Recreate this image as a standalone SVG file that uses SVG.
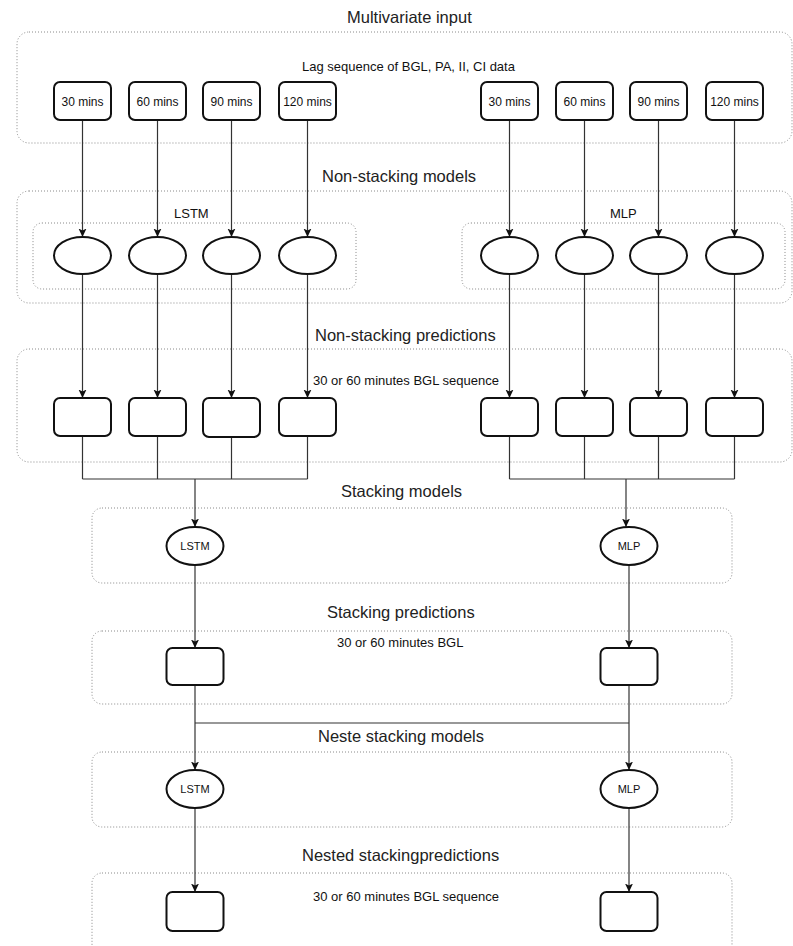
<svg xmlns="http://www.w3.org/2000/svg" width="793" height="946" viewBox="0 0 793 946">
<defs>
<style>
.grp{fill:none;stroke:#8a8a8a;stroke-width:1;stroke-dasharray:1 2}
.node{fill:#fff;stroke:#111;stroke-width:2}
.conn{fill:none;stroke:#333;stroke-width:1.2}
.title{font-family:"Liberation Sans",Arial,sans-serif;font-size:16.5px;fill:#222}
.sub{font-family:"Liberation Sans",Arial,sans-serif;font-size:13px;fill:#111}
.lbl{font-family:"Liberation Sans",Arial,sans-serif;font-size:12px;fill:#111;text-anchor:middle}
.sml{font-family:"Liberation Sans",Arial,sans-serif;font-size:11px;fill:#111;text-anchor:middle}
</style>
<marker id="arr" markerUnits="userSpaceOnUse" markerWidth="9" markerHeight="9" viewBox="0 0 9 9" refX="8.5" refY="4.5" orient="auto">
<path d="M0,0.5 L8.5,4.5 L0,8.5 L2,4.5 z" fill="#111"/>
</marker>
</defs>
<rect width="793" height="946" fill="#fff"/>

<g id="groups">
<rect id="grp-input" class="grp" x="17" y="32" width="775" height="111" rx="12"/>
<rect id="grp-nonstack-models" class="grp" x="17" y="191" width="775" height="112" rx="12"/>
<rect id="grp-lstm" class="grp" x="33" y="223" width="323" height="66" rx="9"/>
<rect id="grp-mlp" class="grp" x="462" y="223" width="323" height="66" rx="9"/>
<rect id="grp-nonstack-pred" class="grp" x="17" y="349" width="775" height="113" rx="12"/>
<rect id="grp-stack-models" class="grp" x="92" y="508" width="640" height="75" rx="10"/>
<rect id="grp-stack-pred" class="grp" x="92" y="631" width="640" height="73" rx="10"/>
<rect id="grp-nested-models" class="grp" x="92" y="752" width="640" height="75" rx="10"/>
<rect id="grp-nested-pred" class="grp" x="92" y="873" width="640" height="90" rx="10"/>
</g>

<g id="labels">
<text class="title" x="347" y="23">Multivariate input</text>
<text class="sub" x="302" y="71">Lag sequence of BGL, PA, II, CI data</text>
<text class="title" x="322" y="182">Non-stacking models</text>
<text class="sub" x="174" y="218">LSTM</text>
<text class="sub" x="610" y="218">MLP</text>
<text class="title" x="315" y="341">Non-stacking predictions</text>
<text class="sub" x="313" y="385">30 or 60 minutes BGL sequence</text>
<text class="title" x="341" y="497">Stacking models</text>
<text class="title" x="327" y="618">Stacking predictions</text>
<text class="sub" x="337" y="647">30 or 60 minutes BGL</text>
<text class="title" x="318" y="742">Neste stacking models</text>
<text class="title" x="302" y="861">Nested stackingpredictions</text>
<text class="sub" x="313" y="901">30 or 60 minutes BGL sequence</text>
</g>

<g id="connectors">
<path class="conn" marker-end="url(#arr)" d="M82.5,120 V237"/>
<path class="conn" marker-end="url(#arr)" d="M157.5,120 V237"/>
<path class="conn" marker-end="url(#arr)" d="M231.5,120 V237"/>
<path class="conn" marker-end="url(#arr)" d="M307.5,120 V237"/>
<path class="conn" marker-end="url(#arr)" d="M509.5,120 V237"/>
<path class="conn" marker-end="url(#arr)" d="M584.5,120 V237"/>
<path class="conn" marker-end="url(#arr)" d="M658.5,120 V237"/>
<path class="conn" marker-end="url(#arr)" d="M734.5,120 V237"/>

<path class="conn" marker-end="url(#arr)" d="M82.5,274 V398"/>
<path class="conn" marker-end="url(#arr)" d="M157.5,274 V398"/>
<path class="conn" marker-end="url(#arr)" d="M231.5,274 V398"/>
<path class="conn" marker-end="url(#arr)" d="M307.5,274 V398"/>
<path class="conn" marker-end="url(#arr)" d="M509.5,274 V398"/>
<path class="conn" marker-end="url(#arr)" d="M584.5,274 V398"/>
<path class="conn" marker-end="url(#arr)" d="M658.5,274 V398"/>
<path class="conn" marker-end="url(#arr)" d="M734.5,274 V398"/>

<path class="conn" d="M82.5,436 V479 M157.5,436 V479 M231.5,437 V479 M307.5,436 V479 M82.5,479 H307.5"/>
<path class="conn" d="M509.5,436 V479 M584.5,436 V479 M658.5,436 V479 M734.5,436 V479 M509.5,479 H734.5"/>
<path class="conn" marker-end="url(#arr)" d="M195,479 V527"/>
<path class="conn" marker-end="url(#arr)" d="M626,479 V527"/>

<path class="conn" marker-end="url(#arr)" d="M195,565 V648"/>
<path class="conn" marker-end="url(#arr)" d="M629,565 V648"/>

<path class="conn" d="M195,723 H629"/>
<path class="conn" marker-end="url(#arr)" d="M195,685 V770"/>
<path class="conn" marker-end="url(#arr)" d="M629,685 V770"/>

<path class="conn" marker-end="url(#arr)" d="M195,808 V892"/>
<path class="conn" marker-end="url(#arr)" d="M629,808 V892"/>
</g>

<g id="in-l30"><rect class="node" x="54" y="82" width="57" height="38" rx="6"/><text class="lbl" x="82.5" y="105.5">30 mins</text></g>
<g id="in-l60"><rect class="node" x="129" y="82" width="57" height="38" rx="6"/><text class="lbl" x="157.5" y="105.5">60 mins</text></g>
<g id="in-l90"><rect class="node" x="203" y="82" width="57" height="38" rx="6"/><text class="lbl" x="231.5" y="105.5">90 mins</text></g>
<g id="in-l120"><rect class="node" x="279" y="82" width="57" height="38" rx="6"/><text class="lbl" x="307.5" y="105.5">120 mins</text></g>
<g id="in-r30"><rect class="node" x="481" y="82" width="57" height="38" rx="6"/><text class="lbl" x="509.5" y="105.5">30 mins</text></g>
<g id="in-r60"><rect class="node" x="556" y="82" width="57" height="38" rx="6"/><text class="lbl" x="584.5" y="105.5">60 mins</text></g>
<g id="in-r90"><rect class="node" x="630" y="82" width="57" height="38" rx="6"/><text class="lbl" x="658.5" y="105.5">90 mins</text></g>
<g id="in-r120"><rect class="node" x="706" y="82" width="57" height="38" rx="6"/><text class="lbl" x="734.5" y="105.5">120 mins</text></g>

<g id="lstm-1"><ellipse class="node" cx="82.5" cy="255.5" rx="28.5" ry="18.5"/></g>
<g id="lstm-2"><ellipse class="node" cx="157.5" cy="255.5" rx="28.5" ry="18.5"/></g>
<g id="lstm-3"><ellipse class="node" cx="231.5" cy="255.5" rx="28.5" ry="18.5"/></g>
<g id="lstm-4"><ellipse class="node" cx="307.5" cy="255.5" rx="28.5" ry="18.5"/></g>
<g id="mlp-1"><ellipse class="node" cx="509.5" cy="255.5" rx="28.5" ry="18.5"/></g>
<g id="mlp-2"><ellipse class="node" cx="584.5" cy="255.5" rx="28.5" ry="18.5"/></g>
<g id="mlp-3"><ellipse class="node" cx="658.5" cy="255.5" rx="28.5" ry="18.5"/></g>
<g id="mlp-4"><ellipse class="node" cx="734.5" cy="255.5" rx="28.5" ry="18.5"/></g>

<g id="pred-l1"><rect class="node" x="54" y="398" width="57" height="38" rx="6"/></g>
<g id="pred-l2"><rect class="node" x="129" y="398" width="57" height="38" rx="6"/></g>
<g id="pred-l3"><rect class="node" x="203" y="398" width="57" height="39" rx="6"/></g>
<g id="pred-l4"><rect class="node" x="279" y="398" width="57" height="38" rx="6"/></g>
<g id="pred-r1"><rect class="node" x="481" y="398" width="57" height="38" rx="6"/></g>
<g id="pred-r2"><rect class="node" x="556" y="398" width="57" height="38" rx="6"/></g>
<g id="pred-r3"><rect class="node" x="630" y="398" width="57" height="38" rx="6"/></g>
<g id="pred-r4"><rect class="node" x="706" y="398" width="57" height="38" rx="6"/></g>

<g id="stack-lstm"><ellipse class="node" cx="195" cy="546" rx="28.5" ry="19"/><text class="sml" x="195" y="550">LSTM</text></g>
<g id="stack-mlp"><ellipse class="node" cx="629" cy="546" rx="28.5" ry="19"/><text class="sml" x="629" y="550">MLP</text></g>

<g id="stackpred-l"><rect class="node" x="166.5" y="648" width="57" height="37" rx="6"/></g>
<g id="stackpred-r"><rect class="node" x="600.5" y="648" width="57" height="37" rx="6"/></g>

<g id="nested-lstm"><ellipse class="node" cx="195" cy="789" rx="28.5" ry="19"/><text class="sml" x="195" y="793">LSTM</text></g>
<g id="nested-mlp"><ellipse class="node" cx="629" cy="789" rx="28.5" ry="19"/><text class="sml" x="629" y="793">MLP</text></g>

<g id="nestedpred-l"><rect class="node" x="166.5" y="892" width="57" height="39" rx="6"/></g>
<g id="nestedpred-r"><rect class="node" x="600.5" y="892" width="57" height="39" rx="6"/></g>
</svg>
